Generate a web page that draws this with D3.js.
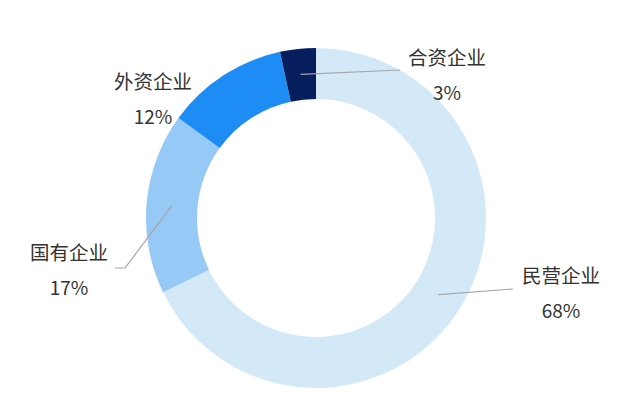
<!DOCTYPE html>
<html><head><meta charset="utf-8">
<script src="https://cdn.jsdelivr.net/npm/d3@7"></script>
<style>
html,body{margin:0;padding:0;background:#fff;}
svg{display:block;}
text{font-family:"Microsoft YaHei","Noto Sans CJK SC",sans-serif;}
</style></head>
<body>
<svg id="chart" width="639" height="415"></svg>
<script>
// data
const categories = ["民营企业", "国有企业", "外资企业", "合资企业"];
const values = [67.8, 17.2, 11.6, 3.4];
const percentLabels = ["68%", "17%", "12%", "3%"];
const colors = ["#d4e9f7", "#96c9f6", "#1e8cf5", "#061e5e"];

// layout (label placement, not data)
const cx = 316, cy = 218, rOuter = 170, rInner = 119;
const labelLayout = [
  {tx: 561, ty: 274, line: [[513, 289]]},
  {tx: 69,  ty: 251, line: [[125, 268], [115, 268]]},
  {tx: 153, ty: 80,  line: null},
  {tx: 447, ty: 56,  line: [[400, 70]]}
];

const svg = d3.select("#chart");
const g = svg.append("g").attr("transform", `translate(${cx},${cy})`);

const pie = d3.pie().sort(null).value(d => d)(values);
const arc = d3.arc().innerRadius(rInner).outerRadius(rOuter);
const midArc = d3.arc().innerRadius((rInner + rOuter) / 2).outerRadius((rInner + rOuter) / 2);

g.selectAll("path.slice").data(pie).join("path")
  .attr("class", "slice")
  .attr("d", arc)
  .attr("fill", (d, i) => colors[i]);

// leader lines
const lineGen = d3.line();
pie.forEach((d, i) => {
  const L = labelLayout[i];
  if (!L.line) return;
  const [sx, sy] = midArc.centroid(d);
  const pts = [[sx + cx, sy + cy]].concat(L.line);
  svg.append("path")
    .attr("d", lineGen(pts))
    .attr("fill", "none")
    .attr("stroke", "#a6a6a6")
    .attr("stroke-width", 1.2);
});

// labels
categories.forEach((c, i) => {
  const L = labelLayout[i];
  svg.append("text")
    .attr("x", L.tx).attr("y", L.ty)
    .attr("text-anchor", "middle")
    .attr("dominant-baseline", "central")
    .attr("font-size", 19.5)
    .attr("fill", "#333")
    .text(c);
  svg.append("text")
    .attr("x", L.tx).attr("y", L.ty + 35)
    .attr("text-anchor", "middle")
    .attr("dominant-baseline", "central")
    .attr("font-size", 19)
    .attr("fill", "#333")
    .text(percentLabels[i]);
});
</script>
</body></html>
